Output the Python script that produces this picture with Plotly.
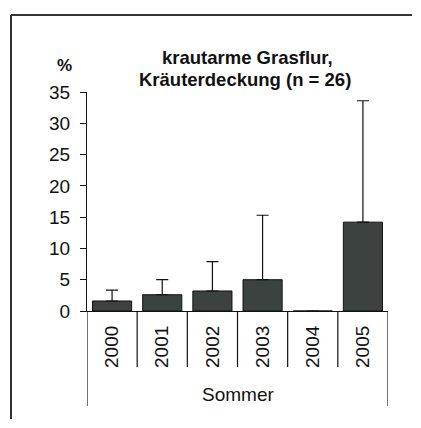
import plotly.graph_objects as go

years = ["2000", "2001", "2002", "2003", "2004", "2005"]
values = [1.6, 2.6, 3.2, 5.0, 0.0, 14.2]
errors_plus = [1.75, 2.4, 4.7, 10.3, None, 19.4]
y_ticks = [0, 5, 10, 15, 20, 25, 30, 35]

# page body has an 8px margin; keep the figure inside the viewport
OFF = 8
W, H = 421 - 2 * OFF, 428 - 2 * OFF
ml, mt = 87 - OFF, 92 - OFF
mr, mb = 421 - 388 - OFF, 428 - 311 - OFF
pw = W - ml - mr
ph = H - mt - mb

def px_x(x):
    return (x - OFF - ml) / pw

def px_y(y):
    return (H - mb - (y - OFF)) / ph

fig = go.Figure()
fig.add_trace(go.Bar(
    x=years, y=values,
    marker=dict(color="#3c4240", line=dict(color="#111", width=1)),
    width=0.78,
    error_y=dict(type="data", array=errors_plus, symmetric=False,
                 arrayminus=[0]*len(years), color="#111", thickness=1.2, width=6,
                 visible=True),
))

font = "Liberation Sans, Arial, sans-serif"
fig.update_layout(
    width=W, height=H,
    margin=dict(l=ml, r=mr, t=mt, b=mb, pad=0),
    paper_bgcolor="white", plot_bgcolor="white",
    showlegend=False,
    font=dict(family=font, color="#111", size=18),
    xaxis=dict(type="category", range=[-0.5, 5.5], showline=True, linecolor="#111",
               linewidth=1.2, ticks="", tickangle=-90, showgrid=False,
               ticklabelstandoff=6, tickfont=dict(size=19, family=font)),
    yaxis=dict(range=[0, 35], tickvals=y_ticks, showline=True, linecolor="#111",
               linewidth=1.2, ticks="outside", ticklen=6, tickcolor="#111",
               showgrid=False, zeroline=False, ticklabelstandoff=6,
               tickfont=dict(size=19, family=font)),
)

# category separators below the axis
for b in [0.5, 1.5, 2.5, 3.5, 4.5]:
    fig.add_shape(type="line", xref="x", yref="paper", x0=b, x1=b,
                  y0=0, y1=px_y(367), line=dict(color="#111", width=1.2))
for b in [-0.5, 5.5]:
    fig.add_shape(type="line", xref="x", yref="paper", x0=b, x1=b,
                  y0=0, y1=px_y(406), line=dict(color="#111", width=1.2))

# outer frame (top and left)
fig.add_shape(type="line", xref="paper", yref="paper",
              x0=px_x(11), x1=px_x(412), y0=px_y(15), y1=px_y(15),
              line=dict(color="#333", width=2))
fig.add_shape(type="line", xref="paper", yref="paper",
              x0=px_x(11), x1=px_x(11), y0=px_y(15), y1=px_y(419),
              line=dict(color="#333", width=2))

fig.add_annotation(text="<b>krautarme Grasflur,</b>",
                   xref="paper", yref="paper", x=px_x(247), y=px_y(58),
                   xanchor="center", yanchor="middle", showarrow=False,
                   font=dict(size=18.5, family=font))
fig.add_annotation(text="<b>Kräuterdeckung (n = 26)</b>",
                   xref="paper", yref="paper", x=px_x(245), y=px_y(79),
                   xanchor="center", yanchor="middle", showarrow=False,
                   font=dict(size=18.5, family=font))
fig.add_annotation(text="<b>%</b>", xref="paper", yref="paper",
                   x=px_x(64), y=px_y(66), xanchor="center", yanchor="middle",
                   showarrow=False, font=dict(size=17, family=font))
fig.add_annotation(text="Sommer", xref="paper", yref="paper",
                   x=0.5, y=px_y(394), xanchor="center", yanchor="middle",
                   showarrow=False, font=dict(size=19, family=font))

fig.write_html("out.html")
